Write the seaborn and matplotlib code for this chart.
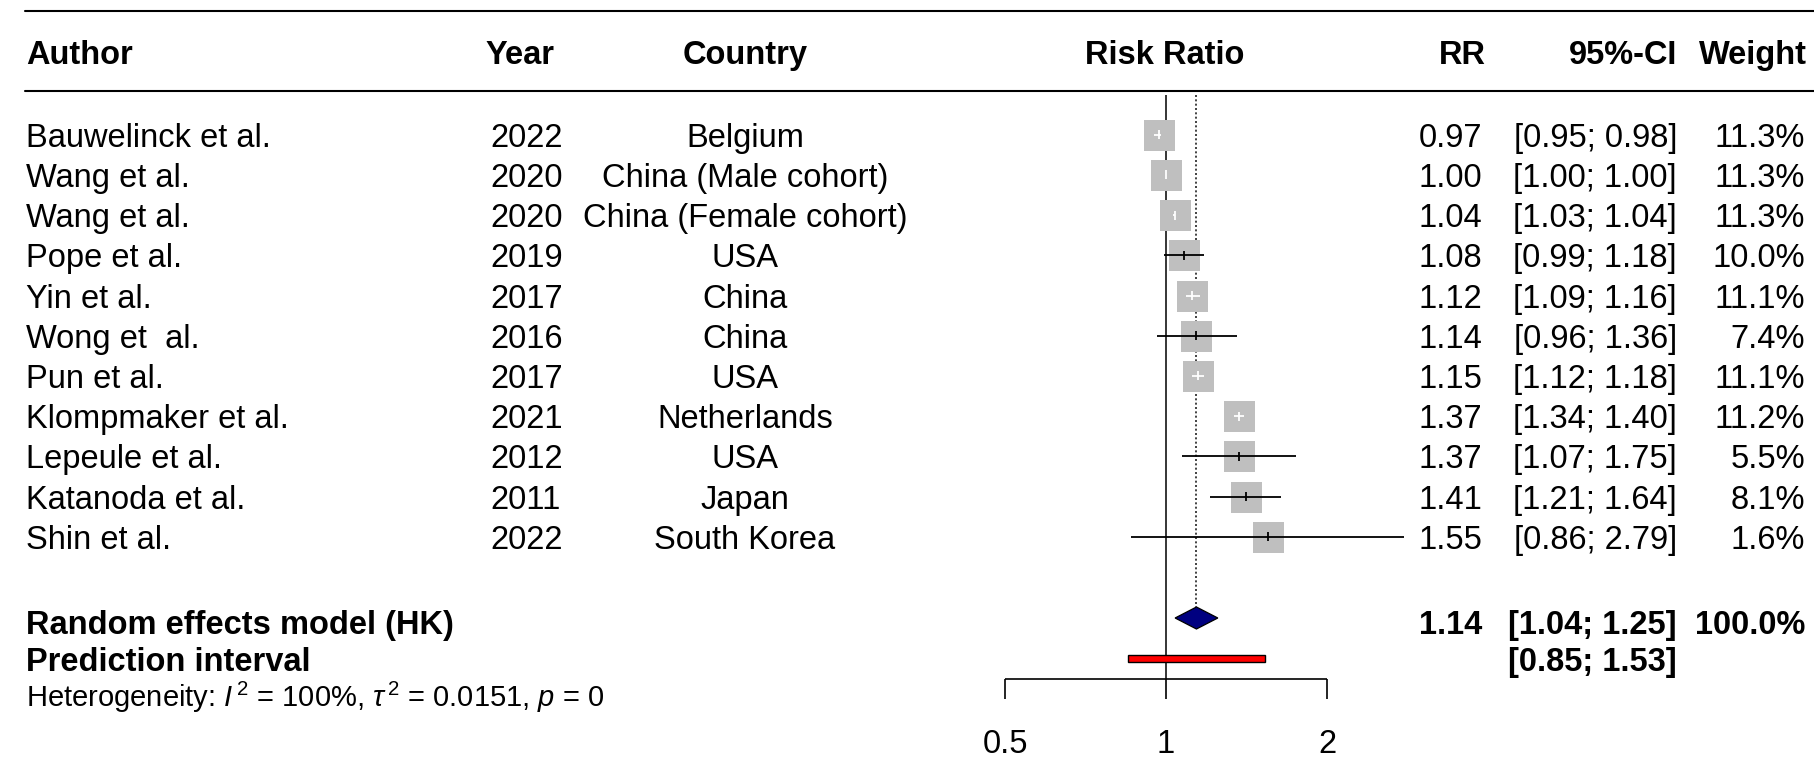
import numpy as np
import pandas as pd
import matplotlib
matplotlib.use("Agg")
import matplotlib.pyplot as plt
import matplotlib.transforms as mtransforms
from matplotlib.patches import Polygon, Rectangle
import seaborn as sns

# === Data ===
authors = ["Bauwelinck et al.", "Wang et al.", "Wang et al.", "Pope et al.", "Yin et al.",
           "Wong et  al.", "Pun et al.", "Klompmaker et al.", "Lepeule et al.",
           "Katanoda et al.", "Shin et al."]
years = [2022, 2020, 2020, 2019, 2017, 2016, 2017, 2021, 2012, 2011, 2022]
countries = ["Belgium", "China (Male cohort)", "China (Female cohort)", "USA", "China",
             "China", "USA", "Netherlands", "USA", "Japan", "South Korea"]
rr = [0.97, 1.00, 1.04, 1.08, 1.12, 1.14, 1.15, 1.37, 1.37, 1.41, 1.55]
ci_low = [0.95, 1.00, 1.03, 0.99, 1.09, 0.96, 1.12, 1.34, 1.07, 1.21, 0.86]
ci_high = [0.98, 1.00, 1.04, 1.18, 1.16, 1.36, 1.18, 1.40, 1.75, 1.64, 2.79]
weights = [11.3, 11.3, 11.3, 10.0, 11.1, 7.4, 11.1, 11.2, 5.5, 8.1, 1.6]

pooled_rr = 1.14
pooled_low = 1.04
pooled_high = 1.25
pred_low = 0.85
pred_high = 1.53
x_ticks = [0.5, 1, 2]
x_tick_labels = ["0.5", "1", "2"]

df = pd.DataFrame({"author": authors, "year": years, "country": countries,
                   "rr": rr, "lo": ci_low, "hi": ci_high, "w": weights})
df["row"] = np.arange(len(df))

# === Layout (pixels of a 1814x759 canvas) ===
W, H = 1814, 759
PX_PER_UNIT = 161.0      # pixels per log2 unit
X_ONE = 1166.0           # pixel of RR = 1
ROW0 = 134.7             # pixel centre of first row
ROW_H = 40.2             # pixel spacing between rows
FS = 23.5
FS_SMALL = 21
SQ_PX = 31


def row_of(py):
    return (py - ROW0) / ROW_H


def fx(px):
    return px / W


sns.set_theme(style="white")
plt.rcParams["font.family"] = ["Liberation Sans", "DejaVu Sans"]
plt.rcParams["text.color"] = "black"
plt.rcParams["mathtext.fontset"] = "custom"
plt.rcParams["mathtext.rm"] = "Liberation Sans"
plt.rcParams["mathtext.it"] = "Liberation Sans:italic"

fig = plt.figure(figsize=(W / 100, H / 100), dpi=100)
fig.patch.set_facecolor("white")
ax = fig.add_axes([0, 0, 1, 1])
ax.set_xscale("log", base=2)
ax.set_xlim(2 ** ((0 - X_ONE) / PX_PER_UNIT), 2 ** ((W - X_ONE) / PX_PER_UNIT))
ax.set_ylim(row_of(H), row_of(0))
ax.axis("off")

tr = mtransforms.blended_transform_factory(fig.transFigure, ax.transData)

# === Header lines ===
for py in [11, 90.7]:
    ax.plot([fx(25), 1.0], [row_of(py), row_of(py)], color="black", lw=1.5,
            transform=tr, clip_on=False)

# === Reference lines ===
ax.vlines(1, row_of(95), row_of(679), color="black", lw=1.1)
ax.vlines(pooled_rr, row_of(95), row_of(607), color="#222222", lw=1.2,
          linestyles=(0, (1.2, 1.4)))

# === Study squares ===
sq_pt = SQ_PX * 72 / 100
sns.scatterplot(data=df, x="rr", y="row", marker="s", s=sq_pt ** 2, color="#bfbfbf",
                linewidth=0, ax=ax, legend=False, zorder=3)
ax.set_xlabel("")
ax.set_ylabel("")
ax.axis("off")

# CI lines: white when inside the square, black otherwise
for _, r in df.iterrows():
    span_px = np.log2(r["hi"] / r["lo"]) * PX_PER_UNIT
    c = "black" if span_px > SQ_PX else "white"
    ax.hlines(r["row"], r["lo"], r["hi"], color=c, lw=1.3, zorder=4)
    ax.vlines(r["rr"], r["row"] - 0.11, r["row"] + 0.11, color=c, lw=1.3, zorder=4)

# === Summary diamond ===
yd = row_of(618)
dh = 11 / ROW_H
diamond = Polygon([(pooled_low, yd), (pooled_rr, yd - dh), (pooled_high, yd), (pooled_rr, yd + dh)],
                  closed=True, facecolor="#000080", edgecolor="black", lw=0.9, zorder=5)
ax.add_patch(diamond)

# === Prediction interval ===
yp = row_of(658.5)
ph = 3.6 / ROW_H
ax.add_patch(Rectangle((pred_low, yp - ph), pred_high - pred_low, 2 * ph,
                       facecolor="red", edgecolor="black", lw=1.0, zorder=5))

# === x axis ===
y_ax = row_of(679)
ax.hlines(y_ax, x_ticks[0], x_ticks[-1], color="black", lw=1.2)
ax.vlines(x_ticks, y_ax, row_of(699), color="black", lw=1.2)
for t, lab in zip(x_ticks, x_tick_labels):
    ax.text(t, row_of(753), lab, ha="center", va="baseline", fontsize=FS)

# === Column text ===
base = 12 / ROW_H
hy = row_of(52) + base
ax.text(fx(26), hy, "Author", transform=tr, ha="left", va="baseline", fontsize=FS, fontweight="bold")
ax.text(fx(485), hy, "Year", transform=tr, ha="left", va="baseline", fontsize=FS, fontweight="bold")
ax.text(fx(745), hy, "Country", transform=tr, ha="center", va="baseline", fontsize=FS, fontweight="bold")
ax.text(fx(1165), hy, "Risk Ratio", transform=tr, ha="center", va="baseline", fontsize=FS, fontweight="bold")
ax.text(fx(1486), hy, "RR", transform=tr, ha="right", va="baseline", fontsize=FS, fontweight="bold")
ax.text(fx(1677), hy, "95%-CI", transform=tr, ha="right", va="baseline", fontsize=FS, fontweight="bold")
ax.text(fx(1807), hy, "Weight", transform=tr, ha="right", va="baseline", fontsize=FS, fontweight="bold")

for _, r in df.iterrows():
    y = r["row"] + base
    ax.text(fx(26), y, r["author"], transform=tr, ha="left", va="baseline", fontsize=FS)
    ax.text(fx(490), y, str(r["year"]), transform=tr, ha="left", va="baseline", fontsize=FS)
    ax.text(fx(745), y, r["country"], transform=tr, ha="center", va="baseline", fontsize=FS)
    ax.text(fx(1482), y, f"{r['rr']:.2f}", transform=tr, ha="right", va="baseline", fontsize=FS)
    ax.text(fx(1677), y, f"[{r['lo']:.2f}; {r['hi']:.2f}]", transform=tr, ha="right",
            va="baseline", fontsize=FS)
    ax.text(fx(1805), y, f"{r['w']:.1f}%", transform=tr, ha="right", va="baseline", fontsize=FS)

# summary rows
ys = row_of(622) + base
ax.text(fx(26), ys, "Random effects model (HK)", transform=tr, ha="left", va="baseline",
        fontsize=FS, fontweight="bold")
ax.text(fx(1482), ys, f"{pooled_rr:.2f}", transform=tr, ha="right", va="baseline",
        fontsize=FS, fontweight="bold")
ax.text(fx(1677), ys, f"[{pooled_low:.2f}; {pooled_high:.2f}]", transform=tr, ha="right",
        va="baseline", fontsize=FS, fontweight="bold")
ax.text(fx(1805), ys, "100.0%", transform=tr, ha="right", va="baseline", fontsize=FS,
        fontweight="bold")

yq = row_of(659) + base
ax.text(fx(26), yq, "Prediction interval", transform=tr, ha="left", va="baseline",
        fontsize=FS, fontweight="bold")
ax.text(fx(1677), yq, f"[{pred_low:.2f}; {pred_high:.2f}]", transform=tr, ha="right",
        va="baseline", fontsize=FS, fontweight="bold")

yh = row_of(697) + 10 / ROW_H
ax.text(fx(26), yh,
        r"Heterogeneity: $\mathit{I}^{\,2}$ = 100%, $\tau^{\,2}$ = 0.0151, $\mathit{p}$ = 0",
        transform=tr, ha="left", va="baseline", fontsize=FS_SMALL)

fig.savefig("out.png", dpi=100, facecolor="white")
plt.close(fig)
